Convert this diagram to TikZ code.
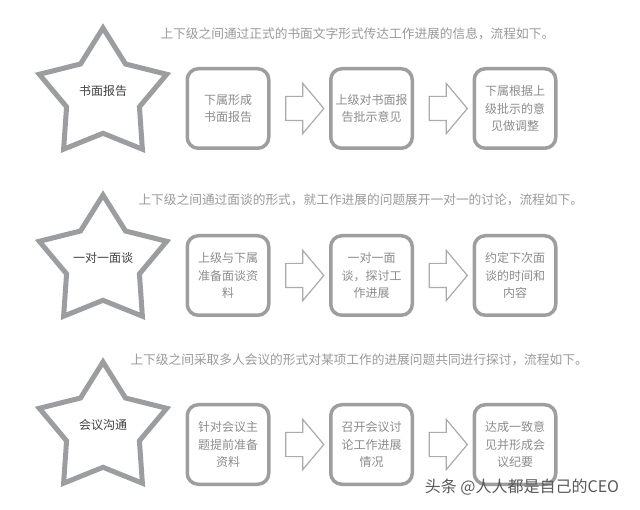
\documentclass[tikz,border=0pt]{standalone}
\usepackage{fontspec}
\setmainfont{Noto Sans CJK SC}
\usetikzlibrary{shapes.geometric,shapes.arrows,positioning}
\usepackage{xcolor}
\definecolor{stargray}{HTML}{9C9DA0}
\definecolor{boxgray}{HTML}{9E9E9E}
\definecolor{boxtext}{HTML}{8C8C8C}
\definecolor{notegray}{HTML}{9A9A9A}
\definecolor{arrowgray}{HTML}{ABABAB}

\begin{document}
\begin{tikzpicture}[x=1pt,y=-1pt,node distance=58.5pt,
        way/.style={star,star points=5,star point ratio=1.75,minimum size=134pt,
            draw=stargray,line width=5pt,inner sep=0pt},
        waytext/.style={yshift=4pt,text=black!75,font=\fontsize{12}{14}\selectfont},
        task/.style={draw=boxgray,line width=3.5pt,rounded corners=11pt,
            minimum width=81.5pt,minimum height=79.5pt,align=center,inner sep=0pt,
            text=boxtext,font=\fontsize{12}{17.5}\selectfont},
        flow/.style={single arrow,draw=arrowgray,line width=1.2pt,fill=white,
            minimum height=38pt,inner xsep=0pt,inner ysep=11.5pt,
            single arrow head extend=13pt,single arrow tip angle=100},
        note/.style={anchor=west,text=notegray,font=\fontsize{12.7}{14}\selectfont}]

    \useasboundingbox[fill=white] (0,0) rectangle (640,510);

    % written report
    \node[note] (n1) at (157,34) {上下级之间通过正式的书面文字形式传达工作进展的信息，流程如下。};
    \node[way,label={[waytext]center:书面报告}] (s1) at (103,95) {};
    \node[task] (b11) at (228,108.5) {下属形成\\书面报告};
    \node[task] (b12) [right=of b11] {上级对书面报\\告批示意见};
    \node[task] (b13) [right=of b12] {下属根据上\\级批示的意\\见做调整};
    \path (b11) -- (b12) node[midway,flow] {};
    \path (b12) -- (b13) node[midway,flow] {};

    % one-to-one talk
    \node[note] (n2) at (135,200) {上下级之间通过面谈的形式，就工作进展的问题展开一对一的讨论，流程如下。};
    \node[way,label={[waytext]center:一对一面谈}] (s2) at (103,262) {};
    \node[task] (b21) at (228,275.5) {上级与下属\\准备面谈资\\料};
    \node[task] (b22) [right=of b21] {一对一面\\谈，探讨工\\作进展};
    \node[task] (b23) [right=of b22] {约定下次面\\谈的时间和\\内容};
    \path (b21) -- (b22) node[midway,flow] {};
    \path (b22) -- (b23) node[midway,flow] {};

    % meeting
    \node[note] (n3) at (127,360) {上下级之间采取多人会议的形式对某项工作的进展问题共同进行探讨，流程如下。};
    \node[way,label={[waytext]center:会议沟通}] (s3) at (103,429) {};
    \node[task] (b31) at (228,444.5) {针对会议主\\题提前准备\\资料};
    \node[task] (b32) [right=of b31] {召开会议讨\\论工作进展\\情况};
    \node[task] (b33) [right=of b32] {达成一致意\\见并形成会\\议纪要};
    \path (b31) -- (b32) node[midway,flow] {};
    \path (b32) -- (b33) node[midway,flow] {};

    \node[text=black!65,font=\fontsize{16}{18}\selectfont] (mark) at (522,487) {头条 @人人都是自己的CEO};

\end{tikzpicture}
\end{document}
